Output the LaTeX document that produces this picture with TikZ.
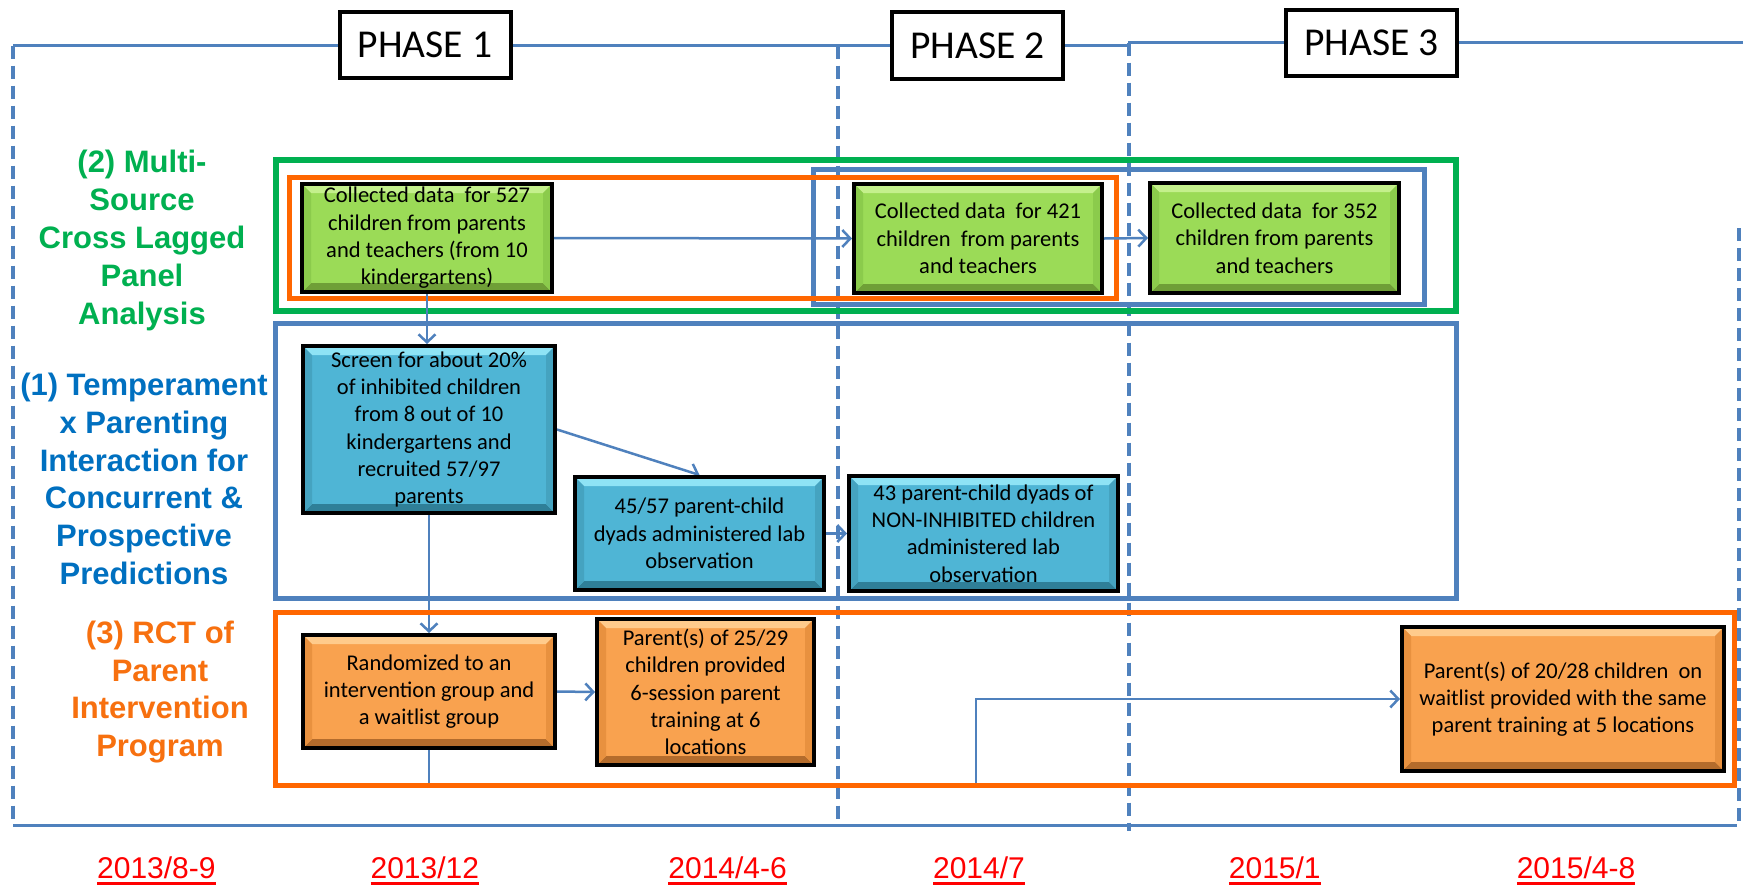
\documentclass[tikz,border=0pt]{standalone}
\usepackage{fontspec}
\setmainfont{Carlito}
\newfontfamily\headfont{Liberation Sans}
\usetikzlibrary{arrows.meta}

\definecolor{lineblue}{HTML}{4F81BD}
\definecolor{framegreen}{HTML}{00B050}
\definecolor{frameorange}{HTML}{FF6600}
\definecolor{labelblue}{HTML}{0070C0}
\definecolor{labelorange}{HTML}{F7700F}
\definecolor{datered}{HTML}{FF0000}
% fills of the step boxes: face, top bevel, bottom bevel, side bevel
\definecolor{gface}{HTML}{9BDB57}
\definecolor{gtop}{HTML}{C4F08C}
\definecolor{gbot}{HTML}{6F9F37}
\definecolor{gside}{HTML}{8BCB4C}
\definecolor{bface}{HTML}{4FB5D5}
\definecolor{btop}{HTML}{8EE3F5}
\definecolor{bbot}{HTML}{2F7F98}
\definecolor{bside}{HTML}{45A3C0}
\definecolor{oface}{HTML}{F9A24F}
\definecolor{otop}{HTML}{FFCB8C}
\definecolor{obot}{HTML}{B46C2C}
\definecolor{oside}{HTML}{E8913F}

\newcommand\uldate[1]{\setbox0=\hbox{#1}\rlap{\rule[-6.5pt]{\wd0}{3pt}}\box0}

\pgfdeclarelayer{back}
\pgfdeclarelayer{mid}
\pgfsetlayers{back,mid,main}

\tikzset{
  bevel/.style n args={4}{fill=#1, path picture={
    \fill[#2] (path picture bounding box.north west) -- (path picture bounding box.north east)
      -- ([xshift=-9pt,yshift=-9pt]path picture bounding box.north east)
      -- ([xshift=9pt,yshift=-9pt]path picture bounding box.north west) -- cycle;
    \fill[#3] (path picture bounding box.south west) -- (path picture bounding box.south east)
      -- ([xshift=-9pt,yshift=9pt]path picture bounding box.south east)
      -- ([xshift=9pt,yshift=9pt]path picture bounding box.south west) -- cycle;
    \fill[#4] (path picture bounding box.north west) -- ([xshift=9pt,yshift=-9pt]path picture bounding box.north west)
      -- ([xshift=9pt,yshift=9pt]path picture bounding box.south west) -- (path picture bounding box.south west) -- cycle;
    \fill[#4] (path picture bounding box.north east) -- ([xshift=-9pt,yshift=-9pt]path picture bounding box.north east)
      -- ([xshift=-9pt,yshift=9pt]path picture bounding box.south east) -- (path picture bounding box.south east) -- cycle;
  }},
  stepbox/.style={draw=black, line width=4pt, inner sep=0pt, align=center,
    font=\fontsize{22.5}{27.3}\selectfont},
  greenstep/.style={stepbox, bevel={gface}{gtop}{gbot}{gside}},
  bluestep/.style={stepbox, bevel={bface}{btop}{bbot}{bside}},
  orangestep/.style={stepbox, bevel={oface}{otop}{obot}{oside}},
  phasebox/.style={draw=black, line width=4pt, fill=white, inner sep=0pt,
    minimum width=171pt, minimum height=66pt, font=\fontsize{39.5}{44}\selectfont},
  rowlabel/.style={align=center, inner sep=0pt,
    font=\headfont\bfseries\fontsize{31}{37.8}\selectfont},
  datelabel/.style={anchor=base, inner sep=0pt, text=datered,
    font=\headfont\fontsize{30}{36}\selectfont},
  timeline/.style={draw=lineblue, line width=3pt},
  dashline/.style={draw=lineblue, line width=3.5pt, dash pattern=on 13pt off 7pt},
  conn/.style={draw=lineblue, line width=2.5pt,
    -{Straight Barb[length=8pt,width=17pt,line width=2.5pt]}},
}

\begin{document}
\begin{tikzpicture}[x=1pt,y=-1pt]
\useasboundingbox (0,0) rectangle (1743,887);

% phase headers
\node[phasebox] (p1) at (425,45) {PHASE 1};
\node[phasebox, minimum height=67pt] (p2) at (977.5,45.5) {PHASE 2};
\node[phasebox] (p3) at (1371.5,43.3) {PHASE 3};

% row labels
\node[rowlabel, text=framegreen] (lab2) at (142,240.5) {(2) Multi-\\Source\\Cross Lagged\\Panel\\Analysis};
\node[rowlabel, text=labelblue] (lab1) at (144,479) {(1) Temperament\\x Parenting\\Interaction for\\Concurrent \&\\Prospective\\Predictions};
\node[rowlabel, text=labelorange] (lab3) at (160,692) {(3) RCT of\\Parent\\Intervention\\Program};

% data collection waves
\node[greenstep, minimum width=250pt, minimum height=108pt] (g1) at (427,238)
  {Collected data~ for 527\\children from parents\\and teachers (from 10\\kindergartens)};
\node[greenstep, minimum width=248pt, minimum height=109pt] (g2) at (978,238.5)
  {Collected data~ for 421\\children~ from parents\\and teachers};
\node[greenstep, minimum width=249pt, minimum height=110pt] (g3) at (1274.5,238)
  {Collected data~ for 352\\children from parents\\and teachers};

% temperament x parenting study
\node[bluestep, minimum width=252pt, minimum height=167pt] (b1) at (429,429.5)
  {Screen for about 20\%\\of inhibited children\\from 8 out of 10\\kindergartens and\\recruited 57/97\\parents};
\node[bluestep, minimum width=249pt, minimum height=113pt] (b2) at (699.5,533.5)
  {45/57 parent-child\\dyads administered lab\\observation};
\node[bluestep, minimum width=269pt, minimum height=115pt] (b3) at (983.5,533.5)
  {43 parent-child dyads of\\NON-INHIBITED children\\administered lab\\observation};

% intervention trial
\node[orangestep, minimum width=252pt, minimum height=113pt] (o1) at (429,691.5)
  {Randomized to an\\intervention group and\\a waitlist group};
\node[orangestep, minimum width=217pt, minimum height=146pt] (o2) at (705.5,692)
  {Parent(s) of 25/29\\children provided\\6-session parent\\training at 6\\locations};
\node[orangestep, minimum width=322pt, minimum height=144pt] (o3) at (1563,699)
  {Parent(s) of 20/28 children~ on\\waitlist provided with the same\\parent training at 5 locations};

% dates
\node[datelabel] (t1) at (156.4,878) {\uldate{2013/8-9}};
\node[datelabel] (t2) at (424.8,878) {\uldate{2013/12}};
\node[datelabel] (t3) at (727.6,878) {\uldate{2014/4-6}};
\node[datelabel] (t4) at (979,878) {\uldate{2014/7}};
\node[datelabel] (t5) at (1274.8,878) {\uldate{2015/1}};
\node[datelabel] (t6) at (1576,878) {\uldate{2015/4-8}};

% timeline frame and phase dividers
\coordinate (tl0) at (13,45.5);
\coordinate (tl1) at (1129,45.5);
\coordinate (tl2) at (1129,42.5);
\coordinate (tl3) at (1743,42.5);
\coordinate (bl0) at (13,825);
\coordinate (bl1) at (1737,825);
\coordinate (d1a) at (13,45.5);   \coordinate (d1b) at (13,825);
\coordinate (d2a) at (838,45.5);  \coordinate (d2b) at (838,825);
\coordinate (d3a) at (1129,42.5); \coordinate (d3b) at (1129,831);
\coordinate (d4a) at (1739,228);  \coordinate (d4b) at (1739,825);
\coordinate (elbow) at (976,784);

\begin{pgfonlayer}{back}
  \fill[white] (0,0) rectangle (1743,887);
  \draw[dashline] (d1a) -- (d1b);
  \draw[dashline] (d2a) -- (d2b);
  \draw[dashline] (d3a) -- (d3b);
  \draw[dashline] (d4a) -- (d4b);
  \draw[timeline] (tl0) -- (tl1) -- (tl2) -- (tl3);
  \draw[timeline] (bl0) -- (bl1);
  % study frames
  \draw[framegreen, line width=6pt] (275.5,160) rectangle (1456,311);
  \draw[lineblue, line width=5pt] (813.5,169.5) rectangle (1424.5,304.5);
  \draw[frameorange, line width=5pt] (289.5,177) rectangle (1116.5,298.5);
  \draw[lineblue, line width=5pt] (275,323.5) rectangle (1456.5,598.5);
\end{pgfonlayer}

\begin{pgfonlayer}{mid}
  \draw[conn] (g1.east) -- (g2.west);
  \draw[conn] (g2.east) -- (g3.west);
  \draw[conn] (g1.south) -- (g1.south |- b1.north);
  \draw[conn] (b1.east) -- (b2.north);
  \draw[conn] (b2.east) -- (b3.west);
  \draw[conn] (b1.south) -- (b1.south |- o1.north);
  \draw[conn] (o1.east) -- (o2.west);
  \draw[conn] (o1.south) |- (elbow) |- (o3.west);
  \draw[frameorange, line width=5pt] (275.5,612.5) rectangle (1734.5,785.5);
\end{pgfonlayer}
\end{tikzpicture}
\end{document}
